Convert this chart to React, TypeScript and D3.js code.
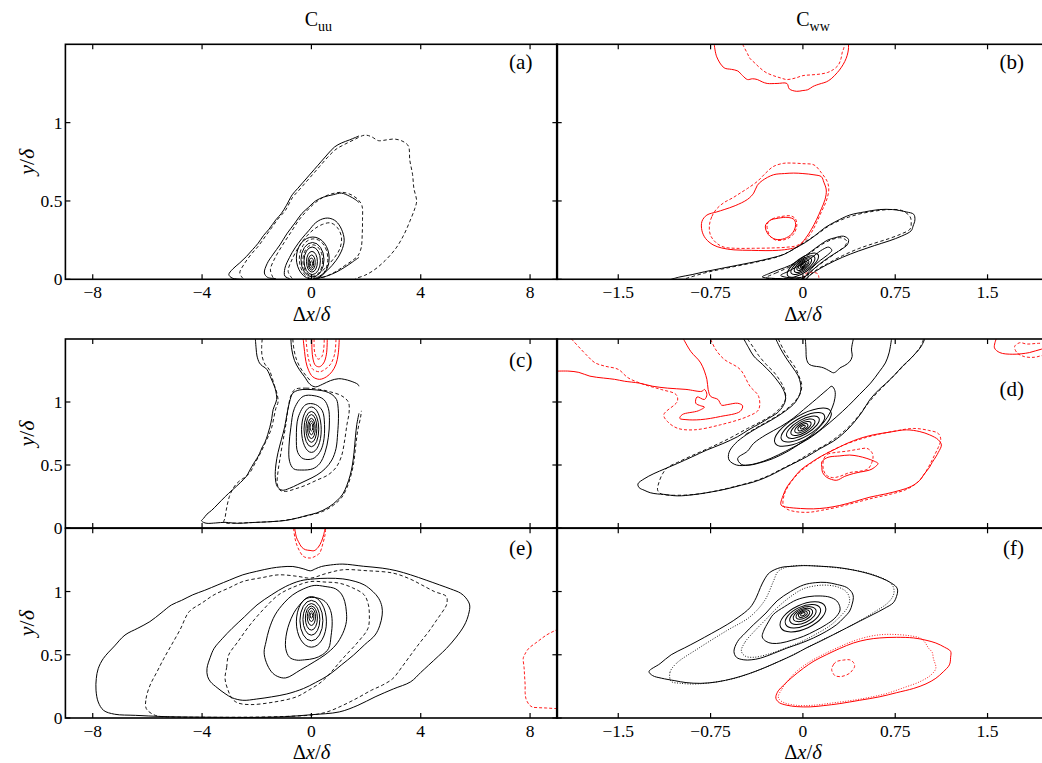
import React from 'react';
import * as d3 from 'd3';

type Pt = [number, number];
type Ring = [number, number, number, number, number]; // cx, cy, rx, ry, tilt

// ---------------- axes ----------------
const LEFT_X_DOMAIN: [number, number] = [-9, 9];
const RIGHT_X_DOMAIN: [number, number] = [-2, 2];
const Y_DOMAIN: [number, number] = [0, 1.5];
const LEFT_X_TICKS = [-8, -4, 0, 4, 8];
const LEFT_X_TICK_LABELS = ['\u22128', '\u22124', '0', '4', '8'];
const RIGHT_X_TICKS = [-1.5, -0.75, 0, 0.75, 1.5];
const RIGHT_X_TICK_LABELS = ['\u22121.5', '\u22120.75', '0', '0.75', '1.5'];
const Y_TICKS = [0, 0.5, 1];
const Y_TICK_LABELS = ['0', '0.5', '1'];
const COLUMN_TITLE_MAIN = ['C', 'C'];
const COLUMN_TITLE_SUB = ['uu', 'ww'];
const PANEL_LABELS = ['(a)', '(b)', '(c)', '(d)', '(e)', '(f)'];

// ---------------- panel (a) ----------------
const A_S1: Pt[] = [[-2.55,0],[-2.9,0.008],[-3.02,0.03],[-2.88,0.065],[-2.62,0.105],[-2.38,0.145],[-2.15,0.19],[-1.95,0.23],[-1.75,0.28],[-1.55,0.32],[-1.3,0.38],[-1.1,0.42],[-0.92,0.47],[-0.7,0.54],[-0.5,0.58],[-0.3,0.62],[-0.1,0.66],[0.1,0.7],[0.35,0.75],[0.6,0.8],[0.85,0.845],[1.1,0.87],[1.4,0.89],[1.74,0.915]];
const A_D1: Pt[] = [[-2.5,0.005],[-2.62,0.04],[-2.45,0.1],[-2.2,0.16],[-1.95,0.21],[-1.7,0.27],[-1.45,0.33],[-1.2,0.39],[-0.95,0.44],[-0.7,0.52],[-0.45,0.57],[-0.2,0.62],[0.05,0.67],[0.3,0.72],[0.6,0.78],[0.9,0.83],[1.2,0.86],[1.55,0.89],[1.95,0.92],[2.2,0.91],[2.45,0.885],[2.75,0.89],[3.05,0.895],[3.35,0.88],[3.55,0.85],[3.6,0.76],[3.7,0.67],[3.75,0.58],[3.85,0.5],[3.78,0.45],[3.6,0.37],[3.4,0.29],[3.1,0.2],[2.7,0.12],[2.3,0.06],[1.95,0.025],[1.6,0.005]];
const A_S2: Pt[] = [[-1.3,0.005],[-1.6,0.012],[-1.72,0.04],[-1.62,0.1],[-1.4,0.16],[-1.15,0.22],[-0.9,0.29],[-0.6,0.36],[-0.35,0.42],[-0.1,0.46],[0.15,0.5],[0.45,0.525],[0.8,0.54],[1.1,0.55],[1.4,0.53],[1.6,0.51],[1.74,0.49]];
const A_S2B: Pt[] = [[1.74,0.14],[1.5,0.11],[1.2,0.075],[0.9,0.045],[0.55,0.02],[0.2,0.005]];
const A_D2: Pt[] = [[-1.4,0.01],[-1.5,0.06],[-1.35,0.13],[-1.05,0.22],[-0.75,0.3],[-0.45,0.38],[-0.15,0.44],[0.15,0.49],[0.5,0.53],[0.85,0.55],[1.15,0.555],[1.45,0.54],[1.7,0.51],[1.85,0.47],[1.87,0.38],[1.86,0.29],[1.82,0.2],[1.7,0.15],[1.5,0.12],[1.2,0.085],[0.9,0.05],[0.55,0.02],[0.25,0.005]];
const A_S3: Pt[] = [[-0.8,0.005],[-0.97,0.02],[-0.97,0.07],[-0.8,0.14],[-0.6,0.2],[-0.35,0.26],[-0.1,0.31],[0.15,0.36],[0.4,0.385],[0.65,0.39],[0.9,0.37],[1.1,0.32],[1.2,0.25],[1.1,0.18],[0.9,0.12],[0.6,0.06],[0.3,0.02],[0.05,0.0]];
const A_D3: Pt[] = [[-0.7,0.005],[-0.85,0.05],[-0.7,0.13],[-0.45,0.21],[-0.2,0.27],[0.1,0.32],[0.4,0.35],[0.7,0.36],[0.95,0.33],[1.1,0.27],[1.05,0.2],[0.85,0.14],[0.55,0.08],[0.25,0.03],[0.05,0.005]];
const A_RINGS_S: Ring[] = [[0.05,0.135,0.6,0.135,0],[0.04,0.125,0.42,0.11,0],[0.03,0.118,0.3,0.088,0],[0.02,0.112,0.2,0.066,0],[0.01,0.107,0.13,0.048,0],[0,0.103,0.08,0.032,0],[0,0.1,0.04,0.017,0]];
const A_RINGS_D: Ring[] = [[0.08,0.13,0.52,0.128,0],[0.05,0.12,0.36,0.1,0]];

// ---------------- panel (b) ----------------
const B_RS1: Pt[] = [[-0.72,1.5],[-0.7,1.42],[-0.64,1.35],[-0.58,1.34],[-0.53,1.33],[-0.49,1.3],[-0.45,1.275],[-0.41,1.28],[-0.37,1.275],[-0.33,1.26],[-0.29,1.25],[-0.21,1.25],[-0.13,1.25],[-0.11,1.215],[-0.05,1.2],[0,1.205],[0.04,1.21],[0.08,1.23],[0.11,1.24],[0.15,1.25],[0.19,1.26],[0.23,1.28],[0.28,1.32],[0.31,1.35],[0.34,1.39],[0.36,1.43],[0.37,1.47],[0.37,1.5]];
const B_RD1: Pt[] = [[-0.49,1.5],[-0.45,1.44],[-0.43,1.41],[-0.39,1.38],[-0.35,1.35],[-0.3,1.32],[-0.24,1.3],[-0.18,1.285],[-0.13,1.275],[-0.06,1.285],[0,1.3],[0.07,1.305],[0.14,1.31],[0.2,1.32],[0.25,1.34],[0.29,1.37],[0.31,1.41],[0.32,1.45],[0.33,1.47],[0.34,1.5]];
const B_RS2: Pt[] = [[-0.82,0.37],[-0.78,0.41],[-0.7,0.43],[-0.64,0.445],[-0.55,0.47],[-0.45,0.51],[-0.4,0.55],[-0.37,0.6],[-0.33,0.63],[-0.24,0.667],[-0.15,0.675],[-0.075,0.678],[0,0.675],[0.09,0.667],[0.15,0.655],[0.17,0.62],[0.19,0.57],[0.18,0.51],[0.15,0.45],[0.11,0.38],[0.07,0.32],[0.02,0.26],[-0.04,0.21],[-0.1,0.195],[-0.2,0.185],[-0.3,0.183],[-0.42,0.185],[-0.56,0.188],[-0.66,0.2],[-0.73,0.22],[-0.79,0.26],[-0.82,0.31]];
const B_RD2: Pt[] = [[-0.76,0.34],[-0.74,0.4],[-0.7,0.45],[-0.64,0.49],[-0.57,0.52],[-0.51,0.55],[-0.45,0.58],[-0.37,0.625],[-0.3,0.68],[-0.24,0.72],[-0.16,0.74],[-0.1,0.742],[0,0.738],[0.09,0.73],[0.15,0.68],[0.2,0.62],[0.21,0.57],[0.19,0.5],[0.15,0.43],[0.11,0.36],[0.07,0.3],[0.02,0.25],[-0.05,0.215],[-0.13,0.205],[-0.25,0.2],[-0.4,0.198],[-0.55,0.198],[-0.64,0.205],[-0.7,0.23],[-0.75,0.28]];
const B_RS3: Pt[] = [[-0.305,0.34],[-0.27,0.375],[-0.2,0.39],[-0.12,0.395],[-0.07,0.38],[-0.06,0.34],[-0.09,0.29],[-0.15,0.26],[-0.22,0.255],[-0.28,0.285]];
const B_RD3: Pt[] = [[-0.29,0.35],[-0.25,0.385],[-0.18,0.4],[-0.1,0.405],[-0.06,0.385],[-0.05,0.34],[-0.08,0.285],[-0.14,0.255],[-0.22,0.25],[-0.27,0.28]];
const B_RD4: Pt[] = [[0,0.005],[0.02,0.035],[0.07,0.045],[0.12,0.035],[0.13,0.01]];
const B_S1: Pt[] = [[-1.07,0],[-1,0.015],[-0.9,0.03],[-0.8,0.048],[-0.66,0.07],[-0.53,0.09],[-0.4,0.11],[-0.26,0.135],[-0.15,0.16],[-0.06,0.2],[0.02,0.235],[0.1,0.28],[0.18,0.33],[0.27,0.37],[0.38,0.41],[0.5,0.43],[0.62,0.445],[0.73,0.445],[0.84,0.43],[0.9,0.415],[0.91,0.38],[0.895,0.34],[0.88,0.31],[0.8,0.275],[0.7,0.245],[0.58,0.215],[0.45,0.18],[0.32,0.14],[0.2,0.095],[0.1,0.05],[0.04,0.015],[0.02,0]];
const B_D1: Pt[] = [[-0.95,0.005],[-0.8,0.04],[-0.66,0.065],[-0.5,0.09],[-0.35,0.115],[-0.2,0.145],[-0.08,0.19],[0.02,0.24],[0.12,0.29],[0.22,0.345],[0.33,0.385],[0.45,0.415],[0.58,0.435],[0.7,0.445],[0.8,0.44],[0.87,0.4],[0.88,0.36],[0.87,0.32],[0.8,0.29],[0.7,0.26],[0.58,0.23],[0.45,0.195],[0.32,0.15],[0.2,0.1],[0.1,0.055],[0.05,0.02],[0.03,0]];
const B_S2: Pt[] = [[-0.33,0.015],[-0.28,0.035],[-0.2,0.06],[-0.1,0.09],[0,0.14],[0.07,0.18],[0.14,0.22],[0.2,0.25],[0.26,0.265],[0.33,0.275],[0.37,0.255],[0.36,0.22],[0.31,0.19],[0.22,0.145],[0.14,0.1],[0.08,0.06],[0.03,0.025],[0,0.005],[-0.1,0.003],[-0.22,0.005]];
const B_D2: Pt[] = [[-0.3,0.01],[-0.22,0.04],[-0.12,0.075],[-0.02,0.12],[0.08,0.18],[0.16,0.225],[0.24,0.255],[0.31,0.265],[0.355,0.245],[0.34,0.21],[0.28,0.175],[0.2,0.13],[0.12,0.085],[0.06,0.045],[0.02,0.01],[-0.1,0.003],[-0.22,0.004]];
const B_S3: Pt[] = [[-0.18,0.025],[-0.12,0.05],[-0.05,0.08],[0.02,0.11],[0.09,0.15],[0.16,0.19],[0.21,0.205],[0.235,0.185],[0.2,0.155],[0.14,0.12],[0.09,0.085],[0.05,0.05],[0.02,0.02],[-0.05,0.01],[-0.13,0.012]];
const B_RINGS_S: Ring[] = [[0,0.09,0.15,0.045,-35],[0,0.09,0.115,0.036,-35],[0,0.09,0.085,0.028,-38],[0,0.09,0.06,0.021,-40],[0,0.09,0.042,0.015,-40],[0,0.09,0.026,0.01,-45],[0,0.09,0.013,0.006,-45]];

// ---------------- panel (c) ----------------
const C_S1L: Pt[] = [[-2.05,1.5],[-2.02,1.42],[-1.99,1.365],[-1.9,1.31],[-1.79,1.285],[-1.68,1.27],[-1.59,1.245],[-1.5,1.2],[-1.4,1.15],[-1.33,1.11],[-1.28,1.06],[-1.27,1.02],[-1.33,0.98],[-1.4,0.94],[-1.45,0.87],[-1.52,0.8],[-1.6,0.74],[-1.7,0.68],[-1.79,0.645],[-1.9,0.59],[-2,0.55],[-2.12,0.51],[-2.25,0.46],[-2.38,0.41],[-2.6,0.36],[-2.9,0.3],[-3.15,0.25],[-3.42,0.19],[-3.65,0.14],[-3.82,0.11],[-3.95,0.075],[-4.02,0.058],[-3.95,0.045],[-3.82,0.037],[-3.5,0.04],[-3.16,0.045],[-2.9,0.04],[-2.64,0.037],[-2.3,0.042],[-1.99,0.045],[-1.5,0.05],[-0.94,0.06],[-0.5,0.08],[-0.16,0.1],[0.2,0.12],[0.63,0.165],[0.95,0.22],[1.15,0.27],[1.3,0.34],[1.42,0.42],[1.5,0.5],[1.56,0.6],[1.61,0.72],[1.66,0.82],[1.74,0.91]];
const C_D1L: Pt[] = [[-1.8,1.5],[-1.82,1.43],[-1.8,1.36],[-1.7,1.3],[-1.55,1.26],[-1.45,1.2],[-1.35,1.13],[-1.25,1.06],[-1.22,1],[-1.3,0.95],[-1.37,0.88],[-1.45,0.8],[-1.55,0.74],[-1.68,0.68],[-1.85,0.6],[-2.05,0.52],[-2.25,0.44],[-2.45,0.4],[-2.65,0.37],[-2.85,0.32],[-3,0.25],[-3.1,0.16],[-3.16,0.08],[-3.2,0.045],[-2.6,0.04],[-2,0.045],[-1.2,0.055],[-0.6,0.075],[-0.1,0.1],[0.4,0.13],[0.8,0.18],[1.1,0.24],[1.3,0.32],[1.45,0.42],[1.55,0.52],[1.62,0.65],[1.7,0.78],[1.8,0.88],[1.83,0.93]];
const C_S1U: Pt[] = [[-0.75,1.5],[-0.72,1.42],[-0.62,1.33],[-0.45,1.26],[-0.25,1.2],[-0.05,1.14],[0.15,1.12],[0.4,1.14],[0.7,1.17],[1,1.185],[1.2,1.18],[1.45,1.165],[1.7,1.14],[1.74,1.125]];
const C_D1U: Pt[] = [[-0.68,1.5],[-0.64,1.42],[-0.55,1.34],[-0.4,1.27],[-0.2,1.21],[0,1.16]];
const C_S2: Pt[] = [[-0.68,1.07],[-0.45,1.095],[-0.16,1.1],[0.2,1.095],[0.5,1.085],[0.75,1.06],[0.92,1.02],[0.98,0.95],[0.99,0.87],[0.96,0.75],[0.9,0.63],[0.75,0.54],[0.5,0.47],[0.2,0.42],[-0.16,0.38],[-0.5,0.345],[-0.8,0.315],[-1.07,0.3],[-1.25,0.33],[-1.32,0.4],[-1.3,0.5],[-1.22,0.6],[-1.1,0.7],[-0.98,0.8],[-0.88,0.92],[-0.8,1]];
const C_D2: Pt[] = [[-0.6,1.1],[-0.2,1.11],[0.3,1.1],[0.7,1.08],[1.1,1.05],[1.35,1],[1.38,0.92],[1.3,0.82],[1.22,0.7],[1.1,0.57],[0.9,0.48],[0.6,0.42],[0.2,0.38],[-0.2,0.34],[-0.6,0.31],[-0.95,0.29],[-1.15,0.3],[-1.25,0.35],[-1.22,0.45],[-1.15,0.55],[-1.05,0.68],[-0.95,0.8],[-0.85,0.95],[-0.75,1.05]];
const C_S3: Pt[] = [[-0.3,1.045],[0.1,1.05],[0.45,1.02],[0.62,0.95],[0.66,0.85],[0.62,0.72],[0.5,0.6],[0.3,0.51],[0.05,0.47],[-0.35,0.46],[-0.65,0.47],[-0.8,0.53],[-0.82,0.65],[-0.75,0.8],[-0.62,0.95]];
const C_S4: Pt[] = [[-0.2,0.98],[0.15,0.98],[0.4,0.93],[0.48,0.82],[0.44,0.68],[0.3,0.6],[0.05,0.55],[-0.3,0.55],[-0.5,0.6],[-0.55,0.72],[-0.48,0.88]];
const C_RINGS_S: Ring[] = [[0,0.78,0.36,0.18,0],[0,0.785,0.27,0.14,0],[0,0.79,0.2,0.11,0],[0,0.79,0.14,0.08,0],[0,0.795,0.09,0.055,0],[0,0.8,0.05,0.03,0]];
const C_RS1: Pt[] = [[-0.3,1.5],[-0.25,1.4],[-0.2,1.32],[-0.1,1.25],[0.05,1.2],[0.3,1.18],[0.55,1.2],[0.75,1.24],[0.9,1.3],[0.98,1.38],[1.02,1.5]];
const C_RD1: Pt[] = [[-0.2,1.5],[-0.15,1.4],[-0.08,1.32],[0.05,1.26],[0.3,1.24],[0.5,1.26],[0.7,1.3],[0.85,1.38],[0.9,1.5]];
const C_RS2: Pt[] = [[0.02,1.5],[0.02,1.42],[0.06,1.34],[0.15,1.29],[0.3,1.28],[0.45,1.31],[0.55,1.38],[0.58,1.5]];
const C_RD2: Pt[] = [[0.1,1.5],[0.1,1.43],[0.15,1.37],[0.25,1.34],[0.38,1.36],[0.45,1.42],[0.47,1.5]];

// ---------------- panel (d) ----------------
const D_S1: Pt[] = [[-0.48,1.5],[-0.44,1.43],[-0.4,1.365],[-0.33,1.3],[-0.26,1.232],[-0.2,1.16],[-0.16,1.1],[-0.14,1.03],[-0.16,0.97],[-0.21,0.912],[-0.28,0.87],[-0.345,0.832],[-0.44,0.78],[-0.53,0.725],[-0.65,0.67],[-0.78,0.619],[-0.9,0.565],[-1.02,0.512],[-1.12,0.47],[-1.21,0.432],[-1.29,0.39],[-1.34,0.35],[-1.33,0.32],[-1.29,0.3],[-1.24,0.28],[-1.18,0.27],[-1.13,0.267],[-1.02,0.255],[-0.885,0.265],[-0.75,0.285],[-0.62,0.31],[-0.5,0.34],[-0.4,0.365],[-0.28,0.41],[-0.18,0.46],[-0.08,0.51],[0.03,0.565],[0.14,0.63],[0.25,0.69],[0.34,0.76],[0.41,0.832],[0.48,0.92],[0.545,1.02],[0.62,1.1],[0.68,1.152],[0.75,1.22],[0.81,1.285],[0.87,1.34],[0.92,1.392],[0.96,1.44],[0.99,1.5]];
const D_D1: Pt[] = [[-0.45,1.5],[-0.4,1.43],[-0.36,1.37],[-0.3,1.3],[-0.23,1.23],[-0.18,1.16],[-0.15,1.1],[-0.14,1.03],[-0.17,0.97],[-0.23,0.91],[-0.33,0.85],[-0.45,0.79],[-0.6,0.71],[-0.75,0.64],[-0.9,0.575],[-1.02,0.52],[-1.1,0.48],[-1.14,0.43],[-1.17,0.36],[-1.18,0.3],[-1.15,0.27],[-1,0.26],[-0.85,0.27],[-0.7,0.295],[-0.55,0.33],[-0.4,0.37],[-0.28,0.415],[-0.17,0.47],[-0.05,0.53],[0.07,0.6],[0.2,0.67],[0.3,0.74],[0.39,0.82],[0.46,0.9],[0.53,0.99],[0.6,1.07],[0.68,1.15],[0.76,1.23],[0.83,1.3],[0.9,1.37],[0.95,1.43],[0.98,1.5]];
const D_S2: Pt[] = [[-0.22,1.5],[-0.18,1.42],[-0.13,1.34],[-0.08,1.27],[-0.04,1.21],[-0.02,1.15],[-0.02,1.08],[-0.06,1],[-0.14,0.93],[-0.25,0.86],[-0.36,0.8],[-0.46,0.74],[-0.55,0.67],[-0.6,0.6],[-0.6,0.54],[-0.54,0.5],[-0.44,0.5],[-0.32,0.53],[-0.2,0.58],[-0.08,0.64],[0.05,0.71],[0.16,0.79],[0.27,0.88],[0.37,0.97],[0.46,1.06],[0.55,1.15],[0.62,1.24],[0.67,1.31],[0.7,1.39],[0.72,1.5]];
const D_D2: Pt[] = [[-0.2,1.5],[-0.16,1.42],[-0.11,1.34],[-0.06,1.27],[-0.03,1.2],[-0.01,1.14],[-0.02,1.07],[-0.07,1],[-0.15,0.93],[-0.26,0.86],[-0.37,0.8],[-0.47,0.74]];
const D_S3: Pt[] = [[-0.53,0.552],[-0.45,0.61],[-0.4,0.672],[-0.3,0.74],[-0.18,0.805],[-0.08,0.87],[0.005,0.939],[0.08,1],[0.14,1.05],[0.2,1.1],[0.235,1.125],[0.26,1.09],[0.26,1.03],[0.24,0.96],[0.2,0.88],[0.14,0.805],[0.06,0.73],[-0.02,0.672],[-0.12,0.61],[-0.24,0.552],[-0.34,0.52],[-0.43,0.5],[-0.5,0.505]];
const D_SB: Pt[] = [[0.02,1.5],[0.025,1.42],[0.03,1.34],[0.05,1.3],[0.09,1.285],[0.13,1.28],[0.17,1.27],[0.21,1.25],[0.25,1.232],[0.28,1.25],[0.3,1.27],[0.34,1.29],[0.38,1.32],[0.4,1.36],[0.395,1.42],[0.41,1.5]];
const D_RINGS_S: Ring[] = [[0,0.8,0.26,0.095,-30],[0,0.8,0.2,0.075,-30],[0,0.8,0.15,0.058,-30],[0,0.8,0.11,0.044,-30],[0,0.8,0.075,0.032,-30],[0,0.8,0.045,0.02,-30],[0,0.8,0.022,0.01,-30]];
const D_RS1: Pt[] = [[-2,1.245],[-1.9,1.245],[-1.82,1.235],[-1.73,1.205],[-1.62,1.19],[-1.53,1.18],[-1.45,1.165],[-1.33,1.15],[-1.22,1.125],[-1.1,1.11],[-0.95,1.1],[-0.82,1.085],[-0.8,1.1],[-0.78,1.06],[-0.8,1.02],[-0.86,1.04],[-0.87,0.99],[-0.83,0.97],[-0.8,0.96],[-0.85,0.93],[-0.98,0.9],[-1,0.87],[-0.95,0.86],[-0.83,0.86],[-0.67,0.885],[-0.51,0.925],[-0.49,0.97],[-0.53,0.99],[-0.61,0.98],[-0.66,0.975],[-0.69,1.02],[-0.75,1.045],[-0.77,1.1],[-0.78,1.18],[-0.83,1.31],[-0.91,1.4],[-0.97,1.5]];
const D_RD1: Pt[] = [[-1.88,1.5],[-1.75,1.365],[-1.69,1.312],[-1.61,1.285],[-1.5,1.259],[-1.42,1.192],[-1.29,1.139],[-1.15,1.099],[-1.03,1.059],[-1.02,1.005],[-1.13,0.899],[-1.1,0.845],[-1.02,0.792],[-0.885,0.779],[-0.67,0.819],[-0.45,0.885],[-0.36,0.939],[-0.36,1.045],[-0.43,1.125],[-0.51,1.259],[-0.64,1.339],[-0.71,1.419],[-0.75,1.5]];
const D_RS2: Pt[] = [[-0.18,0.192],[-0.16,0.26],[-0.13,0.325],[-0.08,0.39],[-0.02,0.459],[0.06,0.515],[0.14,0.565],[0.25,0.62],[0.36,0.672],[0.46,0.71],[0.57,0.739],[0.7,0.76],[0.84,0.779],[0.95,0.765],[1.03,0.739],[1.1,0.7],[1.125,0.659],[1.1,0.6],[1.08,0.565],[1.05,0.52],[1.03,0.485],[0.98,0.42],[0.95,0.379],[0.88,0.33],[0.79,0.299],[0.67,0.27],[0.545,0.245],[0.42,0.21],[0.3,0.179],[0.19,0.16],[0.086,0.152],[-0.02,0.155],[-0.13,0.165],[-0.17,0.175]];
const D_RD2: Pt[] = [[-0.16,0.18],[-0.15,0.27],[-0.1,0.36],[-0.03,0.44],[0.06,0.51],[0.17,0.58],[0.3,0.645],[0.45,0.7],[0.6,0.74],[0.75,0.77],[0.9,0.79],[1.02,0.775],[1.1,0.75],[1.12,0.7],[1.1,0.64],[1.07,0.58],[1.04,0.52],[1,0.45],[0.94,0.37],[0.85,0.31],[0.72,0.27],[0.58,0.24],[0.42,0.2],[0.28,0.165],[0.15,0.14],[0.05,0.125],[-0.06,0.13],[-0.13,0.15]];
const D_RS3: Pt[] = [[0.154,0.525],[0.19,0.555],[0.22,0.565],[0.3,0.572],[0.38,0.579],[0.45,0.57],[0.52,0.552],[0.58,0.53],[0.61,0.512],[0.58,0.48],[0.54,0.459],[0.47,0.445],[0.41,0.432],[0.34,0.41],[0.275,0.379],[0.22,0.39],[0.19,0.405],[0.16,0.44],[0.154,0.48]];
const D_RD3: Pt[] = [[0.17,0.55],[0.2,0.585],[0.27,0.6],[0.36,0.61],[0.45,0.625],[0.52,0.632],[0.56,0.6],[0.57,0.565],[0.56,0.52],[0.53,0.47],[0.46,0.45],[0.38,0.44],[0.3,0.41],[0.24,0.4],[0.19,0.42],[0.165,0.47]];
const D_RS4: Pt[] = [[1.57,1.5],[1.556,1.43],[1.6,1.392],[1.705,1.379],[1.84,1.392],[1.94,1.42],[2.05,1.43]];
const D_RD4: Pt[] = [[2.05,1.47],[1.9,1.465],[1.82,1.46],[1.76,1.47],[1.72,1.44],[1.74,1.39],[1.8,1.36],[1.88,1.355],[1.95,1.37],[2.05,1.38]];

// ---------------- panel (e) ----------------
const E_S1: Pt[] = [[0,0.026],[1.02,0.048],[1.7,0.1],[2.33,0.167],[3,0.23],[3.63,0.286],[4,0.36],[4.29,0.418],[4.65,0.49],[4.94,0.55],[5.3,0.64],[5.6,0.735],[5.75,0.82],[5.79,0.894],[5.65,0.95],[5.46,0.987],[5.1,1.02],[4.68,1.053],[4.2,1.09],[3.63,1.132],[3.1,1.165],[2.59,1.185],[1.9,1.2],[1.15,1.217],[0.7,1.21],[0.37,1.198],[0.15,1.18],[-0.03,1.164],[-0.3,1.18],[-0.68,1.198],[-1.1,1.195],[-1.46,1.185],[-2,1.16],[-2.51,1.132],[-3,1.09],[-3.42,1.053],[-3.9,1.01],[-4.34,0.974],[-4.75,0.93],[-5.12,0.894],[-5.5,0.83],[-5.91,0.762],[-6.35,0.71],[-6.82,0.656],[-7.2,0.57],[-7.61,0.471],[-7.8,0.39],[-7.87,0.312],[-7.88,0.22],[-7.8,0.127],[-7.6,0.06],[-7.2,0.03],[-6.43,0.021],[-5.5,0.012],[-4.5,0.008],[-3,0.005],[-2,0.005],[-1,0.01]];
const E_D1: Pt[] = [[-6.04,0.074],[-6.05,0.153],[-5.9,0.26],[-5.65,0.365],[-5.4,0.47],[-5.12,0.577],[-4.8,0.7],[-4.47,0.841],[-4,0.91],[-3.56,0.974],[-3,1.03],[-2.51,1.079],[-1.8,1.11],[-1.2,1.132],[-0.5,1.12],[-0.03,1.106],[0.5,1.14],[1.15,1.172],[2,1.165],[2.98,1.146],[3.6,1.1],[4.03,1.053],[4.5,1],[4.94,0.96],[4.95,0.9],[4.88,0.868],[4.6,0.78],[4.29,0.683],[3.95,0.59],[3.63,0.497],[3.3,0.4],[2.98,0.312],[2.6,0.26],[2.2,0.22],[1.7,0.16],[1.15,0.1],[0.6,0.05],[0.1,0.026],[-1,0.012],[-2.5,0.006],[-4,0.006],[-5,0.008],[-5.7,0.02]];
const E_S2: Pt[] = [[-3.82,0.392],[-3.7,0.48],[-3.56,0.55],[-3.25,0.63],[-2.9,0.709],[-2.45,0.8],[-1.99,0.894],[-1.45,0.975],[-0.94,1.04],[-0.4,1.085],[0.1,1.1],[0.6,1.105],[1.15,1.1],[1.6,1.08],[1.93,1.053],[2.25,1],[2.46,0.947],[2.58,0.88],[2.59,0.815],[2.5,0.73],[2.33,0.656],[1.95,0.58],[1.54,0.497],[1.1,0.42],[0.63,0.339],[0.15,0.28],[-0.29,0.233],[-0.9,0.19],[-1.46,0.167],[-2,0.15],[-2.51,0.14],[-2.9,0.16],[-3.16,0.193],[-3.45,0.24],[-3.69,0.286],[-3.8,0.33]];
const E_D2: Pt[] = [[-3.16,0.312],[-3.1,0.4],[-3.03,0.497],[-2.7,0.6],[-2.25,0.735],[-1.75,0.86],[-1.2,0.974],[-0.6,1.04],[-0.03,1.079],[0.5,1.075],[1.02,1.066],[1.5,1.03],[1.93,0.974],[2.08,0.9],[2.12,0.815],[2.07,0.709],[1.7,0.6],[1.15,0.471],[0.75,0.37],[0.37,0.286],[-0.1,0.22],[-0.55,0.167],[-1.4,0.125],[-2.25,0.106],[-2.7,0.12],[-2.9,0.153],[-3.05,0.22]];
const E_S3: Pt[] = [[-1.66,0.603],[-1.55,0.7],[-1.33,0.815],[-1,0.91],[-0.68,0.974],[-0.3,1.02],[0.1,1.048],[0.5,1.04],[0.89,1.021],[1.1,0.98],[1.22,0.921],[1.28,0.84],[1.28,0.762],[1.15,0.67],[0.89,0.577],[0.5,0.5],[0.1,0.444],[-0.4,0.38],[-0.94,0.317],[-1.25,0.33],[-1.46,0.365],[-1.65,0.44],[-1.73,0.52]];
const E_S4: Pt[] = [[-0.94,0.55],[-0.9,0.68],[-0.68,0.815],[-0.45,0.89],[-0.16,0.947],[0.2,0.95],[0.5,0.921],[0.7,0.85],[0.76,0.762],[0.72,0.65],[0.63,0.55],[0.4,0.5],[0.1,0.471],[-0.25,0.46],[-0.55,0.458],[-0.8,0.48]];
const E_RINGS_S: Ring[] = [[0,0.76,0.55,0.2,0],[0,0.77,0.42,0.16,0],[0,0.78,0.31,0.125,0],[0,0.79,0.22,0.095,0],[0,0.8,0.15,0.068,0],[0,0.805,0.09,0.042,0],[0,0.81,0.045,0.02,0]];
const E_RS1: Pt[] = [[-0.61,1.5],[-0.55,1.43],[-0.48,1.397],[-0.35,1.35],[-0.22,1.331],[-0.05,1.325],[0.1,1.323],[0.25,1.35],[0.37,1.397],[0.45,1.45],[0.5,1.5]];
const E_RD1: Pt[] = [[-0.65,1.5],[-0.6,1.42],[-0.5,1.35],[-0.29,1.278],[-0.03,1.265],[0.15,1.28],[0.3,1.304],[0.42,1.38],[0.5,1.45],[0.52,1.5]];
const E_RD2: Pt[] = [[9.2,0.72],[8.9,0.69],[8.6,0.656],[8.25,0.6],[7.95,0.55],[7.8,0.5],[7.75,0.471],[7.78,0.4],[7.8,0.33],[7.82,0.259],[7.82,0.2],[7.85,0.153],[7.95,0.11],[8.08,0.087],[8.3,0.082],[8.6,0.079],[8.9,0.075],[9.2,0.072]];

// ---------------- panel (f) ----------------
const F_S1: Pt[] = [[-1.25,0.367],[-1.16,0.43],[-1.07,0.5],[-0.96,0.555],[-0.86,0.606],[-0.74,0.67],[-0.615,0.739],[-0.52,0.8],[-0.43,0.872],[-0.38,0.95],[-0.345,1.032],[-0.31,1.1],[-0.27,1.15],[-0.18,1.19],[-0.08,1.2],[0.005,1.205],[0.14,1.2],[0.275,1.191],[0.41,1.17],[0.545,1.138],[0.64,1.105],[0.71,1.072],[0.76,1.035],[0.77,1.005],[0.76,0.96],[0.735,0.912],[0.66,0.865],[0.57,0.819],[0.46,0.765],[0.356,0.713],[0.25,0.66],[0.14,0.606],[0.03,0.555],[-0.075,0.5],[-0.2,0.445],[-0.32,0.394],[-0.44,0.35],[-0.56,0.314],[-0.7,0.285],[-0.83,0.274],[-0.95,0.28],[-1.04,0.295],[-1.15,0.315],[-1.22,0.335]];
const F_D1: Pt[] = [[-1.07,0.29],[-1.08,0.36],[-1.03,0.43],[-0.85,0.55],[-0.62,0.69],[-0.43,0.8],[-0.31,0.93],[-0.24,1.08],[-0.2,1.16],[-0.1,1.2],[0.2,1.195],[0.55,1.14],[0.72,1.06],[0.74,0.99],[0.7,0.92],[0.55,0.82],[0.35,0.71],[0.12,0.6],[-0.08,0.5],[-0.33,0.39],[-0.57,0.31],[-0.85,0.27],[-1,0.275]];
const F_S2: Pt[] = [[-0.56,0.527],[-0.53,0.606],[-0.47,0.67],[-0.4,0.739],[-0.3,0.83],[-0.21,0.926],[-0.1,1],[0.005,1.052],[0.1,1.07],[0.19,1.072],[0.28,1.055],[0.356,1.032],[0.4,0.99],[0.41,0.952],[0.4,0.9],[0.38,0.846],[0.33,0.79],[0.275,0.739],[0.19,0.685],[0.086,0.633],[-0.02,0.59],[-0.13,0.553],[-0.24,0.51],[-0.345,0.473],[-0.42,0.46],[-0.48,0.46],[-0.54,0.48]];
const F_D2: Pt[] = [[-0.5,0.53],[-0.47,0.6],[-0.4,0.68],[-0.3,0.78],[-0.2,0.88],[-0.1,0.96],[0,1.02],[0.1,1.045],[0.2,1.05],[0.3,1.03],[0.36,0.99],[0.38,0.93],[0.36,0.87],[0.3,0.8],[0.22,0.73],[0.1,0.66],[-0.02,0.6],[-0.15,0.55],[-0.28,0.505],[-0.4,0.48],[-0.47,0.49]];
const F_S3: Pt[] = [[-0.32,0.686],[-0.28,0.76],[-0.24,0.819],[-0.15,0.88],[-0.05,0.935],[0.05,0.96],[0.14,0.965],[0.22,0.955],[0.275,0.926],[0.3,0.88],[0.3,0.846],[0.26,0.79],[0.19,0.739],[0.1,0.69],[0.005,0.646],[-0.09,0.615],[-0.18,0.593],[-0.25,0.59],[-0.3,0.606],[-0.33,0.64]];
const F_RINGS_S: Ring[] = [[0,0.8,0.2,0.095,-25],[0,0.805,0.155,0.075,-25],[0,0.81,0.115,0.058,-25],[0,0.815,0.085,0.044,-25],[0,0.818,0.06,0.031,-25],[0,0.82,0.038,0.02,-25],[0,0.82,0.02,0.011,-25]];
const F_RS1: Pt[] = [[-0.22,0.168],[-0.2,0.215],[-0.156,0.26],[-0.09,0.32],[0.005,0.394],[0.09,0.45],[0.19,0.5],[0.3,0.55],[0.41,0.593],[0.52,0.62],[0.625,0.633],[0.76,0.638],[0.9,0.633],[1,0.615],[1.08,0.593],[1.15,0.56],[1.2,0.527],[1.2,0.48],[1.19,0.42],[1.14,0.365],[1.08,0.314],[1,0.27],[0.9,0.234],[0.76,0.2],[0.625,0.168],[0.46,0.14],[0.3,0.114],[0.17,0.098],[0.06,0.088],[-0.05,0.09],[-0.13,0.101],[-0.19,0.12],[-0.215,0.145]];
const F_RD1: Pt[] = [[-0.2,0.17],[-0.17,0.23],[-0.13,0.287],[-0.05,0.37],[0.06,0.447],[0.16,0.5],[0.275,0.553],[0.4,0.605],[0.545,0.646],[0.65,0.66],[0.76,0.66],[0.87,0.65],[0.95,0.633],[0.99,0.6],[1.02,0.553],[1.05,0.52],[1.06,0.47],[1.08,0.394],[1.04,0.34],[0.95,0.287],[0.82,0.24],[0.68,0.194],[0.55,0.165],[0.41,0.141],[0.25,0.12],[0.086,0.101],[-0.05,0.1],[-0.15,0.12],[-0.19,0.145]];
const F_RD2: Pt[] = [[0.235,0.394],[0.25,0.425],[0.275,0.447],[0.33,0.458],[0.38,0.46],[0.41,0.44],[0.42,0.407],[0.4,0.375],[0.38,0.354],[0.34,0.335],[0.3,0.327],[0.26,0.335],[0.245,0.354],[0.235,0.375]];

// ---------------- styles ----------------
type StyleKey = 'ks' | 'kd' | 'kt' | 'rs' | 'rd' | 'rt';
const STYLES: Record<StyleKey, { stroke: string; dash?: string; w: number }> = {
  ks: { stroke: '#000', w: 1 },
  kd: { stroke: '#000', dash: '3.5,2.5', w: 0.9 },
  kt: { stroke: '#000', dash: '1,1.6', w: 0.9 },
  rs: { stroke: '#ff0000', w: 1 },
  rd: { stroke: '#ff0000', dash: '3,2', w: 0.9 },
  rt: { stroke: '#ff0000', dash: '1,1.6', w: 0.9 },
};

type Layer = { pts: Pt[]; style: StyleKey; closed: boolean };
type RingLayer = { rings: Ring[]; style: StyleKey };
type PanelDef = { col: number; row: number; layers: Layer[]; rings: RingLayer[] };

const L = (pts: Pt[], style: StyleKey, closed = false): Layer => ({ pts, style, closed });

const PANELS: PanelDef[] = [
  { col: 0, row: 0, layers: [L(A_D1,'kd'),L(A_S1,'ks'),L(A_D2,'kd'),L(A_S2,'ks'),L(A_S2B,'ks'),L(A_D3,'kd'),L(A_S3,'ks')], rings: [{rings:A_RINGS_D,style:'kd'},{rings:A_RINGS_S,style:'ks'}] },
  { col: 1, row: 0, layers: [L(B_RD1,'rd'),L(B_RS1,'rs'),L(B_RD2,'rd',true),L(B_RS2,'rs',true),L(B_RD3,'rd',true),L(B_RS3,'rs',true),L(B_RD4,'rd'),L(B_D1,'kd'),L(B_S1,'ks'),L(B_D2,'kd',true),L(B_S2,'ks',true),L(B_S3,'ks',true)], rings: [{rings:B_RINGS_S,style:'ks'}] },
  { col: 0, row: 1, layers: [L(C_D1L,'kd'),L(C_S1L,'ks'),L(C_D1U,'kd'),L(C_S1U,'ks'),L(C_D2,'kd',true),L(C_S2,'ks',true),L(C_S3,'ks',true),L(C_S4,'ks',true),L(C_RS1,'rs'),L(C_RD1,'rd'),L(C_RS2,'rs'),L(C_RD2,'rd')], rings: [{rings:C_RINGS_S,style:'ks'}] },
  { col: 1, row: 1, layers: [L(D_D1,'kd'),L(D_S1,'ks'),L(D_D2,'kd'),L(D_S2,'ks'),L(D_S3,'ks',true),L(D_SB,'ks'),L(D_RS1,'rs'),L(D_RD1,'rd'),L(D_RD2,'rd',true),L(D_RS2,'rs',true),L(D_RD3,'rd',true),L(D_RS3,'rs',true),L(D_RS4,'rs'),L(D_RD4,'rd')], rings: [{rings:D_RINGS_S,style:'ks'}] },
  { col: 0, row: 2, layers: [L(E_D1,'kd',true),L(E_S1,'ks',true),L(E_D2,'kd',true),L(E_S2,'ks',true),L(E_S3,'ks',true),L(E_S4,'ks',true),L(E_RS1,'rs'),L(E_RD1,'rd'),L(E_RD2,'rd')], rings: [{rings:E_RINGS_S,style:'ks'}] },
  { col: 1, row: 2, layers: [L(F_D1,'kt',true),L(F_S1,'ks',true),L(F_D2,'kt',true),L(F_S2,'ks',true),L(F_S3,'ks',true),L(F_RD1,'rt',true),L(F_RS1,'rs',true),L(F_RD2,'rd',true)], rings: [{rings:F_RINGS_S,style:'ks'}] },
];

const FONT = "'Liberation Serif', 'Times New Roman', Times, Tinos, 'Noto Serif', 'DejaVu Serif', FreeSerif, serif";
const TXT: React.CSSProperties = { fontFamily: FONT };

export default function App() {
  const W = 1042;
  const H = 763;
  const cols = [
    { x0: 65.4, x1: 557.4, domain: LEFT_X_DOMAIN, ticks: LEFT_X_TICKS, labels: LEFT_X_TICK_LABELS },
    { x0: 556.7, x1: 1049.1, domain: RIGHT_X_DOMAIN, ticks: RIGHT_X_TICKS, labels: RIGHT_X_TICK_LABELS },
  ];
  const rows = [
    { y0: 44.3, y1: 279.3, xl: true, xlOff: 42 },
    { y0: 339, y1: 528, xl: false, xlOff: 0 },
    { y0: 528.3, y1: 718, xl: true, xlOff: 40.6 },
  ];
  const labelBaseline = [69, 367, 555];
  const labelBaselineRight = [69, 396, 555];
  const TL = 5;

  return (
    <svg width={W} height={H} style={{ position: 'absolute', left: 0, top: 0, background: '#fff', fontFamily: FONT }}>
      <rect x={0} y={0} width={W} height={H} fill="#fff" />
      <defs>
        {PANELS.map((p, i) => {
          const c = cols[p.col], r = rows[p.row];
          return (
            <clipPath id={`clip${i}`} key={i}>
              <rect x={c.x0} y={r.y0} width={c.x1 - c.x0} height={r.y1 - r.y0} />
            </clipPath>
          );
        })}
      </defs>
      {PANELS.map((p, i) => {
        const c = cols[p.col], r = rows[p.row];
        const xs = d3.scaleLinear().domain(c.domain).range([c.x0, c.x1]);
        const ys = d3.scaleLinear().domain(Y_DOMAIN).range([r.y1, r.y0]);
        const kx = xs(1) - xs(0);
        const ky = ys(0) - ys(1);
        const open = d3.line<Pt>().x(d => xs(d[0])).y(d => ys(d[1])).curve(d3.curveCatmullRom.alpha(0.5));
        const closed = d3.line<Pt>().x(d => xs(d[0])).y(d => ys(d[1])).curve(d3.curveCatmullRomClosed.alpha(0.5));
        return (
          <g key={i} clipPath={`url(#clip${i})`}>
            {p.rings.map((rl, j) =>
              rl.rings.map((rg, k) => {
                const st = STYLES[rl.style];
                const cx = xs(rg[0]), cy = ys(rg[1]);
                return (
                  <ellipse key={`r${j}-${k}`} cx={cx} cy={cy} rx={rg[2] * kx} ry={rg[3] * ky}
                    transform={`rotate(${rg[4]} ${cx} ${cy})`} fill="none" stroke={st.stroke}
                    strokeWidth={st.w} strokeDasharray={st.dash} />
                );
              })
            )}
            {p.layers.map((l, j) => {
              const st = STYLES[l.style];
              return (
                <path key={j} d={(l.closed ? closed : open)(l.pts) || ''} fill="none" stroke={st.stroke}
                  strokeWidth={st.w} strokeDasharray={st.dash} strokeLinejoin="round" />
              );
            })}
          </g>
        );
      })}
      {PANELS.map((p, i) => {
        const c = cols[p.col], r = rows[p.row];
        const xs = d3.scaleLinear().domain(c.domain).range([c.x0, c.x1]);
        const ys = d3.scaleLinear().domain(Y_DOMAIN).range([r.y1, r.y0]);
        const midX = (c.x0 + c.x1) / 2;
        const midY = (r.y0 + r.y1) / 2;
        return (
          <g key={`ax${i}`}>
            <rect x={c.x0} y={r.y0} width={c.x1 - c.x0} height={r.y1 - r.y0} fill="none" stroke="#000" strokeWidth={1.6} />
            {c.ticks.map((t, k) => (
              <g key={`xt${k}`}>
                <line x1={xs(t)} x2={xs(t)} y1={r.y1} y2={r.y1 - TL} stroke="#000" strokeWidth={1.2} />
                <line x1={xs(t)} x2={xs(t)} y1={r.y0} y2={r.y0 + TL} stroke="#000" strokeWidth={1.2} />
                {r.xl && (
                  <text style={TXT} x={xs(t)} y={r.y1 + 18.5} fontSize={17.5} textAnchor="middle">{c.labels[k]}</text>
                )}
              </g>
            ))}
            {Y_TICKS.map((t, k) => (
              <g key={`yt${k}`}>
                <line x1={c.x0} x2={c.x0 + TL} y1={ys(t)} y2={ys(t)} stroke="#000" strokeWidth={1.2} />
                <line x1={c.x1} x2={c.x1 - TL} y1={ys(t)} y2={ys(t)} stroke="#000" strokeWidth={1.2} />
                {p.col === 0 && (
                  <text style={TXT} x={c.x0 - 3} y={ys(t) + 6} fontSize={17.5} textAnchor="end">{Y_TICK_LABELS[k]}</text>
                )}
              </g>
            ))}
            {r.xl && (
              <text style={TXT} x={midX} y={r.y1 + r.xlOff} fontSize={20.5} textAnchor="middle">
                {'\u0394'}<tspan fontStyle="italic">x</tspan>/<tspan fontStyle="italic">{'\u03b4'}</tspan>
              </text>
            )}
            {p.col === 0 && (
              <text style={TXT} transform={`translate(34 ${midY}) rotate(-90)`} fontSize={22} textAnchor="middle">
                <tspan fontStyle="italic">y</tspan>/<tspan fontStyle="italic">{'\u03b4'}</tspan>
              </text>
            )}
            <text style={TXT} x={c.x1 - 25} y={p.col === 0 ? labelBaseline[p.row] : labelBaselineRight[p.row]} fontSize={21} textAnchor="end">
              {PANEL_LABELS[i]}
            </text>
          </g>
        );
      })}
      {cols.map((c, i) => {
        const mid = (c.x0 + c.x1) / 2;
        return (
          <text style={TXT} key={`title${i}`} x={mid - 6.7} y={26} fontSize={20}>
            {COLUMN_TITLE_MAIN[i]}
            <tspan fontSize={14} dy={5}>{COLUMN_TITLE_SUB[i]}</tspan>
          </text>
        );
      })}
    </svg>
  );
}
